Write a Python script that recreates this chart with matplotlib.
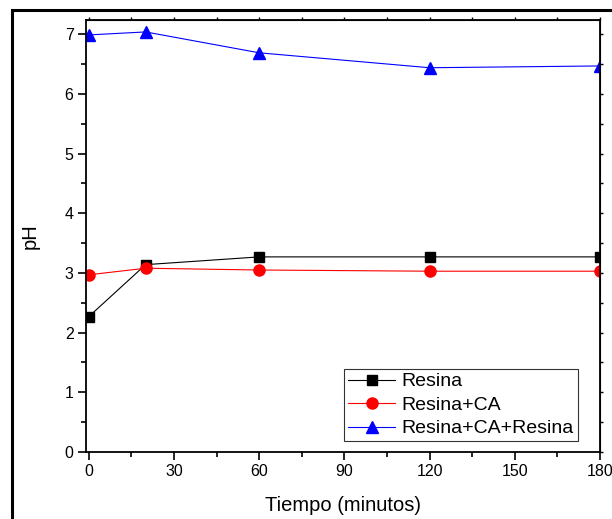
import numpy as np
import matplotlib
matplotlib.use('Agg')
import matplotlib.pyplot as plt
from matplotlib.patches import Rectangle
from matplotlib.ticker import MultipleLocator

plt.rcParams['font.family'] = ['Liberation Sans', 'DejaVu Sans']

tiempo = [0, 20, 60, 120, 180]
ph_resina = [2.27, 3.14, 3.27, 3.27, 3.27]
ph_resina_ca = [2.97, 3.08, 3.05, 3.03, 3.03]
ph_resina_ca_resina = [6.99, 7.04, 6.69, 6.44, 6.47]

fig = plt.figure(figsize=(6.12, 5.19), dpi=100)
ax = fig.add_axes([86/612, 1 - 452/519, (600 - 86)/612, (452 - 20)/519])

ax.plot(tiempo, ph_resina, color='black', lw=0.8, marker='s', ms=7, label='Resina')
ax.plot(tiempo, ph_resina_ca, color='red', lw=0.8, marker='o', ms=8, label='Resina+CA')
ax.plot(tiempo, ph_resina_ca_resina, color='blue', lw=0.8, marker='^', ms=8.5,
        label='Resina+CA+Resina')

ax.set_xlim(-1, 180)
ax.set_ylim(0, 7.24)
ax.xaxis.set_major_locator(MultipleLocator(30))
ax.xaxis.set_minor_locator(MultipleLocator(15))
ax.yaxis.set_major_locator(MultipleLocator(1))
ax.yaxis.set_minor_locator(MultipleLocator(0.5))
ax.tick_params(which='major', direction='out', length=6, width=1.2, labelsize=11.5, pad=3)
ax.tick_params(which='minor', direction='out', length=3.5, width=1.2)
for s in ax.spines.values():
    s.set_linewidth(1.3)

# short ticks on top and right, no labels
top = ax.secondary_xaxis('top')
top.xaxis.set_major_locator(MultipleLocator(30))
top.xaxis.set_minor_locator(MultipleLocator(15))
top.tick_params(which='both', length=2, width=1, labeltop=False)
right = ax.secondary_yaxis('right')
right.yaxis.set_major_locator(MultipleLocator(1))
right.yaxis.set_minor_locator(MultipleLocator(0.5))
right.tick_params(which='both', length=2, width=1, labelright=False)

ax.set_xlabel('Tiempo (minutos)', fontsize=14.5, labelpad=12)
ax.set_ylabel('pH', fontsize=14.5, labelpad=18)

leg = ax.legend(loc='lower right', bbox_to_anchor=(0.957, 0.025), borderaxespad=0,
                fontsize=14, frameon=True, fancybox=False, edgecolor='black',
                handlelength=2.4, handletextpad=0.35, borderpad=0.2, labelspacing=0.3)
leg.get_frame().set_linewidth(0.8)

# outer frame around the figure
fig.add_artist(Rectangle((12/612, -0.1), 1.2, 1 - 10/519 + 0.1,
                         transform=fig.transFigure, fill=False,
                         edgecolor='black', lw=2.2))

fig.savefig('out.png', dpi=100)
